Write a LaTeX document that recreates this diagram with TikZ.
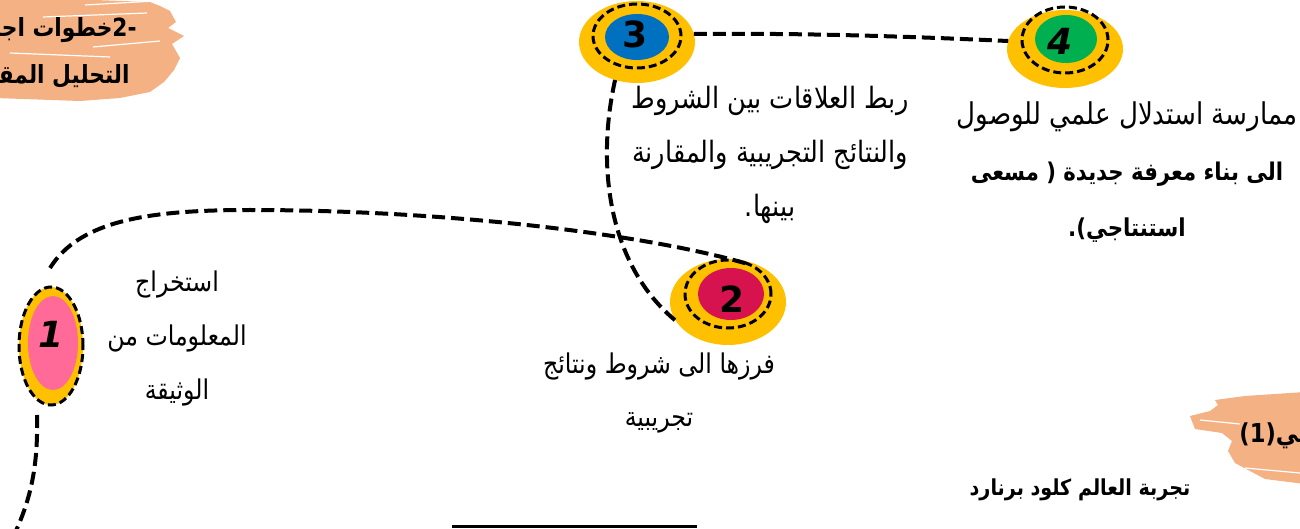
\documentclass[tikz,border=0pt]{standalone}
\usepackage{fontspec}
\TeXXeTstate=1
\newfontfamily\arabicfont[Script=Arabic,FakeStretch=0.87]{DejaVu Sans}
\newfontfamily\numfont{DejaVu Sans}
\usetikzlibrary{shapes.geometric,calc}
\definecolor{yel}{HTML}{FFC000}
\definecolor{blue3}{HTML}{0070C0}
\definecolor{green4}{HTML}{00B050}
\definecolor{crim2}{HTML}{D6134F}
\definecolor{pink1}{HTML}{FF6A98}
\definecolor{brush}{HTML}{F4B183}
\newcommand\AR[1]{\beginR #1\endR}
\begin{document}
\begin{tikzpicture}[x=0.5pt,y=-0.5pt,
  ell/.style={ellipse,inner sep=0pt,outer sep=0pt},
  ring/.style={ell,draw=black,line width=1.5pt,dash pattern=on 4pt off 2pt},
  conn/.style={draw=black,line width=2pt,dash pattern=on 6.5pt off 3pt},
  num/.style={font=\numfont\bfseries\fontsize{18}{20}\selectfont,inner sep=0pt},
  inum/.style={num,font=\numfont\bfseries\itshape\fontsize{18}{20}\selectfont},
  txt/.style={font=\arabicfont\fontsize{14.7}{27}\selectfont,align=center,inner sep=0pt},
  btxt/.style={font=\arabicfont\bfseries\fontsize{12.5}{27}\selectfont,align=center,inner sep=0pt},
  streak/.style={draw=white,line width=0.6pt}]
\useasboundingbox (0,0) rectangle (1300,529);
\clip (0,0) rectangle (1300,529);
\fill[white] (0,0) rectangle (1300,529);
% top-left brush
\fill[brush] (-5,-5) -- (95,0) -- (150,2) -- (160,6) -- (170,11) -- (176,22) -- (168,28) -- (184,36) -- (172,44) -- (180,58) -- (174,70) -- (164,82) -- (150,92) -- (120,98) -- (80,101) -- (-5,98) -- cycle;
\draw[streak] (43,17) -- (147,13);
\draw[streak] (93,47) -- (160,41);
\draw[streak] (10,53) -- (110,57);
\draw[streak] (85,5) -- (155,1);
\node[btxt,anchor=east] (tl1) at (137,30) {\AR{\beginL-2\endL خطوات اجراء}};
\node[btxt,anchor=east] (tl2) at (130,77) {\AR{التحليل المقارن}};
% bottom-right brush
\fill[brush] (1215,400) -- (1245,396) -- (1305,392) -- (1305,484) -- (1265,479) -- (1250,471) -- (1235,463) -- (1228,451) -- (1232,441) -- (1222,433) -- (1195,429) -- (1190,416) -- (1210,411) -- (1218,405) -- cycle;
\draw[streak] (1200,420) -- (1240,424);
\draw[streak] (1245,468) -- (1300,473);
\node[btxt,font=\arabicfont\bfseries\fontsize{13}{27}\selectfont,anchor=west] (tr) at (1239,436) {\AR{تعريفي\beginL(1)\endL}};
% node 3
\node[ell,fill=yel,minimum width=58pt,minimum height=41pt] (y3) at (637,42) {};
\node[ell,fill=blue3,minimum width=32pt,minimum height=23pt] (f3) at (637,37) {};
\node[ring,minimum width=44pt,minimum height=32pt] (r3) at (637,36) {};
\node[num] (n3) at (635,34) {3};
% node 4
\node[ell,fill=yel,minimum width=58pt,minimum height=39pt] (y4) at (1065,49) {};
\node[ell,fill=green4,minimum width=31pt,minimum height=24pt] (f4) at (1066,39) {};
\node[ring,minimum width=43pt,minimum height=33pt] (r4) at (1065,40) {};
\node[inum] (n4) at (1060,41) {4};
% node 2
\node[ell,fill=yel,minimum width=58pt,minimum height=43pt] (y2) at (728,302) {};
\node[ell,fill=crim2,minimum width=33pt,minimum height=26pt] (f2) at (731,294) {};
\node[ring,minimum width=43pt,minimum height=34pt] (r2) at (728,294) {};
\node[num] (n2) at (732,299) {2};
% node 1
\node[ring,fill=yel,minimum width=32pt,minimum height=59pt] (r1) at (51,346) {};
\node[ell,fill=pink1,minimum width=25pt,minimum height=47pt] (f1) at (53,343) {};
\node[inum] (n1) at (51,334) {1};
% connectors
\coordinate (s1) at ($(r1.north)+(-1,-19)$);
\coordinate (b1) at ($(r1.south)+(-14,10)$);
\coordinate (b1end) at (14,535);
\draw[conn] (y3.8) .. controls (800,33) and (900,36) .. (y4.172);
\draw[conn] (y3.240) .. controls (596,165) and (608,265) .. (y2.200);
\draw[conn] (s1) .. controls (80,220) and (150,210) .. (250,210) .. controls (450,210) and (650,235) .. (r2.55);
\draw[conn] (b1) .. controls (38,460) and (33,495) .. (b1end);
% texts
\node[txt] (t3) at (770,155) {\AR{ربط العلاقات بين الشروط}\\ \AR{والنتائج التجريبية والمقارنة}\\ \AR{بينها.}};
\node[txt,font=\arabicfont\fontsize{15}{28}\selectfont] (t4) at (1127,172) {\AR{ممارسة استدلال علمي للوصول}\\ {\bfseries\fontsize{12.2}{28}\selectfont\AR{الى بناء معرفة جديدة ( مسعى}}\\ {\bfseries\fontsize{12.3}{28}\selectfont\AR{استنتاجي).}}};
\node[txt,font=\arabicfont\fontsize{13.6}{27}\selectfont] (t1) at (177,338) {\AR{استخراج}\\ \AR{المعلومات من}\\ \AR{الوثيقة}};
\node[txt,font=\arabicfont\fontsize{13.6}{26.5}\selectfont] (t2) at (659,393) {\AR{فرزها الى شروط ونتائج}\\ \AR{تجريبية}};
\node[btxt,font=\arabicfont\bfseries\fontsize{11}{27}\selectfont] (tb) at (1080,490) {\AR{تجربة  العالم كلود برنارد}};
% bottom line
\draw[line width=1.5pt] (452,526) -- (697,526);
\end{tikzpicture}
\end{document}
